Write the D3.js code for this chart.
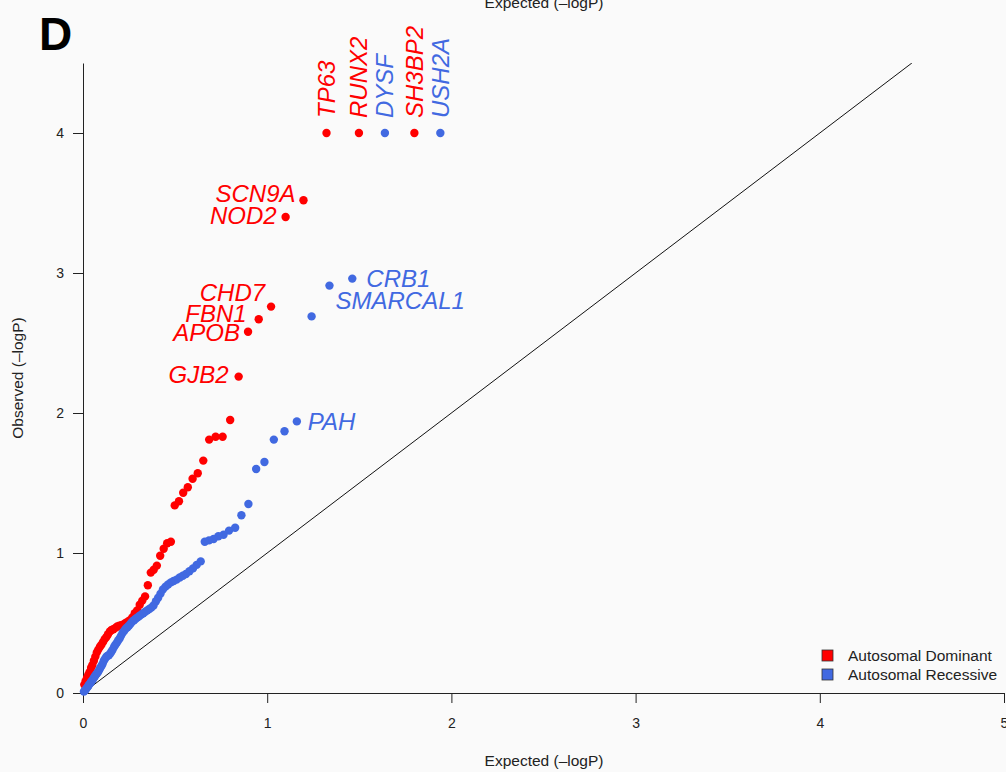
<!DOCTYPE html>
<html lang="en">
<head>
<meta charset="UTF-8">
<title>QQ plot D</title>
<script src="https://d3js.org/d3.v7.min.js"></script>
<style>
	body { margin: 0; background: #fafafa; }
	svg { display: block; font-family: "Liberation Sans", Arial, sans-serif; }
	.axis text { font-size: 14px; fill: #222; }
	.axis path, .axis line { stroke: #222; stroke-width: 1px; }
	.gene { font-size: 24px; font-style: italic; }
	.title { font-size: 15.5px; fill: #222; }
</style>
</head>
<body>
<svg id="chart" width="1006" height="772"></svg>
<script>
// expected vs observed -logP, autosomal dominant (red) and recessive (blue)
const adExpected = [1.799, 1.498, 1.322, 1.197, 1.100, 1.021, 0.954, 0.896, 0.845, 0.799,
	0.758, 0.720, 0.685, 0.653, 0.623, 0.595, 0.569, 0.544, 0.521, 0.498,
	0.477, 0.457, 0.438, 0.419, 0.401, 0.384, 0.368, 0.352, 0.337, 0.322,
	0.308, 0.294, 0.281, 0.268, 0.255, 0.243, 0.231, 0.219, 0.208, 0.197,
	0.186, 0.176, 0.165, 0.155, 0.146, 0.136, 0.127, 0.118, 0.109, 0.100,
	0.092, 0.083, 0.075, 0.067, 0.059, 0.051, 0.044, 0.036, 0.029, 0.022,
	0.014, 0.007];
const adObserved = [4.0, 4.0, 4.0, 3.52, 3.40, 2.76, 2.67, 2.58, 2.26, 1.95,
	1.83, 1.83, 1.81, 1.66, 1.57, 1.53, 1.47, 1.43, 1.37, 1.34,
	1.08, 1.07, 1.03, 0.98, 0.91, 0.88, 0.86, 0.77, 0.69, 0.66,
	0.63, 0.59, 0.57, 0.54, 0.52, 0.51, 0.50, 0.49, 0.485, 0.48,
	0.475, 0.465, 0.455, 0.45, 0.44, 0.42, 0.40, 0.385, 0.365, 0.345,
	0.33, 0.31, 0.29, 0.26, 0.23, 0.20, 0.18, 0.15, 0.13, 0.11,
	0.085, 0.06];
const adGenes = ["SH3BP2", "RUNX2", "TP63", "SCN9A", "NOD2", "CHD7", "FBN1", "APOB", "GJB2"];

const arExpected = [1.940, 1.639, 1.462, 1.338, 1.241, 1.161, 1.094, 1.036, 0.985, 0.940,
	0.898, 0.860, 0.826, 0.793, 0.763, 0.735, 0.709, 0.684, 0.661, 0.639,
	0.617, 0.597, 0.578, 0.559, 0.542, 0.525, 0.508, 0.492, 0.477, 0.462,
	0.448, 0.434, 0.421, 0.408, 0.396, 0.383, 0.371, 0.360, 0.349, 0.338,
	0.327, 0.316, 0.306, 0.296, 0.286, 0.277, 0.267, 0.258, 0.249, 0.241,
	0.232, 0.224, 0.215, 0.207, 0.199, 0.191, 0.184, 0.176, 0.169, 0.161,
	0.154, 0.147, 0.140, 0.133, 0.127, 0.120, 0.113, 0.107, 0.101, 0.094,
	0.088, 0.082, 0.076, 0.070, 0.065, 0.059, 0.053, 0.047, 0.042, 0.036,
	0.031, 0.026, 0.020, 0.015, 0.010, 0.005];
const arObserved = [4.0, 4.0, 2.96, 2.91, 2.69, 1.94, 1.87, 1.81, 1.65, 1.60,
	1.35, 1.27, 1.18, 1.16, 1.13, 1.12, 1.10, 1.09, 1.08, 0.94,
	0.915, 0.89, 0.87, 0.85, 0.838, 0.825, 0.81, 0.80, 0.79, 0.775,
	0.76, 0.74, 0.71, 0.68, 0.655, 0.625, 0.61, 0.60, 0.59, 0.58,
	0.57, 0.56, 0.55, 0.54, 0.53, 0.52, 0.51, 0.495, 0.48, 0.47,
	0.46, 0.445, 0.43, 0.41, 0.39, 0.375, 0.36, 0.345, 0.33, 0.31,
	0.295, 0.28, 0.27, 0.265, 0.26, 0.245, 0.23, 0.21, 0.195, 0.18,
	0.165, 0.15, 0.14, 0.13, 0.12, 0.11, 0.095, 0.085, 0.075, 0.065,
	0.055, 0.045, 0.035, 0.025, 0.018, 0.01];
const arGenes = ["USH2A", "DYSF", "CRB1", "SMARCAL1", "", "PAH"];

const xTicks = [0, 1, 2, 3, 4, 5];
const yTicks = [0, 1, 2, 3, 4];
const legendLabels = ["Autosomal Dominant", "Autosomal Recessive"];

const red = "#ff0000", blue = "#4169e1";

// label placement (pixel offsets from the point), roughly as in the figure
const labelLayout = {
	SH3BP2: {vertical: true}, RUNX2: {vertical: true}, TP63: {vertical: true},
	USH2A: {vertical: true}, DYSF: {vertical: true},
	SCN9A: {dx: -8, dy: -7, anchor: "end"},
	NOD2: {dx: -9, dy: -1, anchor: "end"},
	CHD7: {dx: -6, dy: -14, anchor: "end"},
	FBN1: {dx: -12, dy: -6, anchor: "end"},
	APOB: {dx: -8, dy: 1, anchor: "end"},
	GJB2: {dx: -10, dy: -2, anchor: "end"},
	CRB1: {dx: 14, dy: 0, anchor: "start"},
	SMARCAL1: {dx: 6, dy: 15, anchor: "start"},
	PAH: {dx: 11, dy: 0, anchor: "start"}
};

const svg = d3.select("#chart");
const x = d3.scaleLinear().domain([0, 5]).range([83, 1004]);
const y = d3.scaleLinear().domain([0, 4.5]).range([693, 63]);

// panel letter and the cut-off title of the panel above
svg.append("text").attr("x", 39).attr("y", 50)
	.attr("font-size", 46).attr("font-weight", "bold").text("D");
svg.append("text").attr("class", "title").attr("x", 544).attr("y", 8).attr("text-anchor", "middle")
	.text("Expected (–logP)");

// axes
svg.append("g").attr("class", "axis").attr("transform", "translate(0,693)")
	.call(d3.axisBottom(x).tickValues(xTicks).tickSize(10).tickSizeOuter(0).tickPadding(15).tickFormat(d3.format("d")));
svg.append("g").attr("class", "axis").attr("transform", "translate(83,0)")
	.call(d3.axisLeft(y).tickValues(yTicks).tickSize(10).tickSizeOuter(0).tickPadding(9).tickFormat(d3.format("d")));

svg.append("text").attr("class", "title").attr("x", 544).attr("y", 766).attr("text-anchor", "middle")
	.text("Expected (–logP)");
svg.append("text").attr("class", "title").attr("transform", "translate(23,378) rotate(-90)")
	.attr("text-anchor", "middle").text("Observed (–logP)");

// null line, clipped to plot region
svg.append("clipPath").attr("id", "plotClip").append("rect")
	.attr("x", 83).attr("y", 63).attr("width", 921).attr("height", 630);
svg.append("line").attr("clip-path", "url(#plotClip)")
	.attr("x1", x(0)).attr("y1", y(0)).attr("x2", x(4.5)).attr("y2", y(4.5))
	.attr("stroke", "#111").attr("stroke-width", 1);

function drawSeries(ex, ob, color) {
	const pts = ex.map((d, i) => ({ex: d, ob: ob[i]}));
	svg.append("g").selectAll("circle")
		.data(pts)
		.enter()
		.append("circle")
		.attr("cx", d => x(d.ex))
		.attr("cy", d => y(d.ob))
		.attr("r", 4.2)
		.attr("fill", color);
}
drawSeries(adExpected, adObserved, red);
drawSeries(arExpected, arObserved, blue);

function drawLabels(genes, ex, ob, color) {
	genes.forEach((g, i) => {
		if (!g) return;
		const L = labelLayout[g];
		const px = x(ex[i]), py = y(ob[i]);
		if (L.vertical) {
			svg.append("text").attr("class", "gene")
				.attr("transform", `translate(${px},${py - 15}) rotate(-90)`)
				.attr("dy", "0.35em")
				.attr("fill", color).text(g);
		} else {
			svg.append("text").attr("class", "gene")
				.attr("x", px + L.dx).attr("y", py + L.dy)
				.attr("dy", "0.35em")
				.attr("text-anchor", L.anchor)
				.attr("fill", color).text(g);
		}
	});
}
drawLabels(adGenes, adExpected, adObserved, red);
drawLabels(arGenes, arExpected, arObserved, blue);

// legend
const legend = svg.append("g").attr("transform", "translate(822,650)");
legendLabels.forEach((lab, i) => {
	legend.append("rect").attr("x", 0).attr("y", i * 19).attr("width", 11).attr("height", 11)
		.attr("fill", i === 0 ? red : blue).attr("stroke", "#333").attr("stroke-width", 0.8);
	legend.append("text").attr("class", "title").attr("x", 26).attr("y", i * 19 + 5.5).attr("dy", "0.35em")
		.text(lab);
});
</script>
</body>
</html>
